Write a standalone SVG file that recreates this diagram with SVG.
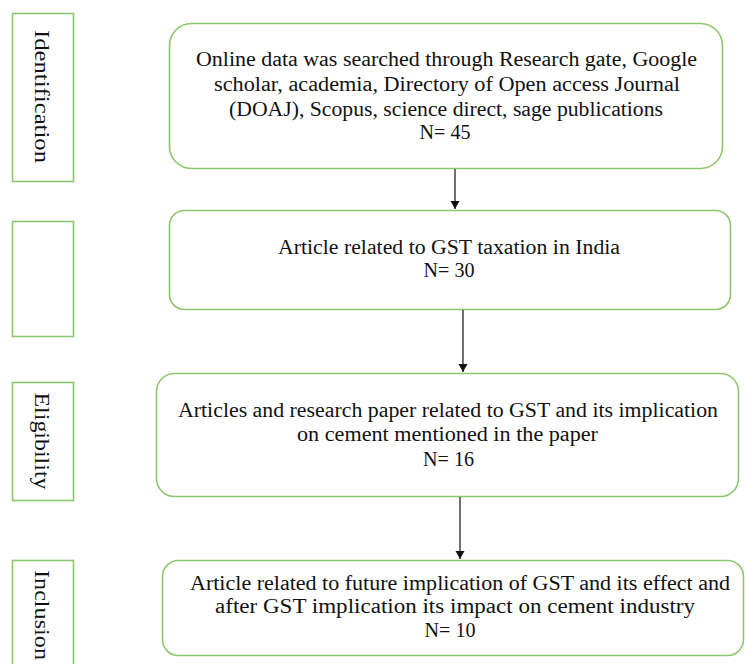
<svg xmlns="http://www.w3.org/2000/svg" width="746" height="664" viewBox="0 0 746 664">
<defs>
<style>
.box{fill:#fff;stroke:#8dc66c;stroke-width:1.6}
.t{font-family:"Liberation Serif","Times New Roman",serif;font-size:20px;fill:#111;text-anchor:middle}
.v{font-family:"Liberation Serif","Times New Roman",serif;font-size:22px;fill:#111;text-anchor:middle}
.c{stroke:#222;stroke-width:1.3;fill:none}
</style>
<marker id="ah" markerWidth="10" markerHeight="10" refX="8" refY="4.5" orient="auto" markerUnits="userSpaceOnUse">
<path d="M0,0 L8,4.5 L0,9 Z" fill="#111"/>
</marker>
</defs>
<rect width="746" height="664" fill="#fff"/>
<g id="stage-identification">
<rect class="box" x="12.5" y="13.5" width="61" height="168"/>
<text class="v" transform="translate(35,96.5) rotate(90)" textLength="133" lengthAdjust="spacingAndGlyphs">Identification</text>
</g>
<g id="stage-screening">
<rect class="box" x="12.5" y="221.5" width="61" height="115"/>
</g>
<g id="stage-eligibility">
<rect class="box" x="12.5" y="382.5" width="61" height="118"/>
<text class="v" transform="translate(35,441) rotate(90)" textLength="97" lengthAdjust="spacingAndGlyphs">Eligibility</text>
</g>
<g id="stage-inclusion">
<rect class="box" x="12.5" y="560.5" width="61" height="110"/>
<text class="v" transform="translate(35,615) rotate(90)" textLength="90" lengthAdjust="spacingAndGlyphs">Inclusion</text>
</g>
<g id="node-1">
<rect class="box" x="169.5" y="23.5" width="553" height="145" rx="22"/>
<text class="t" x="446.5" y="66" textLength="501" lengthAdjust="spacingAndGlyphs">Online data was searched through Research gate, Google</text>
<text class="t" x="447" y="91" textLength="466" lengthAdjust="spacingAndGlyphs">scholar, academia, Directory of Open access Journal</text>
<text class="t" x="446" y="116" textLength="434" lengthAdjust="spacingAndGlyphs">(DOAJ), Scopus, science direct, sage publications</text>
<text class="t" x="445" y="139" textLength="51" lengthAdjust="spacingAndGlyphs">N= 45</text>
</g>
<g id="node-2">
<rect class="box" x="169.5" y="210.5" width="561" height="99" rx="15"/>
<text class="t" x="449" y="254" textLength="342" lengthAdjust="spacingAndGlyphs">Article related to GST taxation in India</text>
<text class="t" x="449" y="277" textLength="51" lengthAdjust="spacingAndGlyphs">N= 30</text>
</g>
<g id="node-3">
<rect class="box" x="156.5" y="373.5" width="582" height="123" rx="18"/>
<text class="t" x="448" y="417" textLength="540" lengthAdjust="spacingAndGlyphs">Articles and research paper related to GST and its implication</text>
<text class="t" x="447.5" y="441" textLength="301" lengthAdjust="spacingAndGlyphs">on cement mentioned in the paper</text>
<text class="t" x="448.5" y="466" textLength="51" lengthAdjust="spacingAndGlyphs">N= 16</text>
</g>
<g id="node-4">
<rect class="box" x="162.5" y="560.5" width="581" height="95" rx="16"/>
<text class="t" x="460" y="590" textLength="540" lengthAdjust="spacingAndGlyphs">Article related to future implication of GST and its effect and</text>
<text class="t" x="455" y="613" textLength="480" lengthAdjust="spacingAndGlyphs">after GST implication its impact on cement industry</text>
<text class="t" x="450" y="637" textLength="51" lengthAdjust="spacingAndGlyphs">N= 10</text>
</g>
<g id="connectors">
<line class="c" x1="455" y1="169" x2="455" y2="209" marker-end="url(#ah)"/>
<line class="c" x1="463" y1="310" x2="463" y2="372" marker-end="url(#ah)"/>
<line class="c" x1="460" y1="497" x2="460" y2="559" marker-end="url(#ah)"/>
</g>
</svg>
